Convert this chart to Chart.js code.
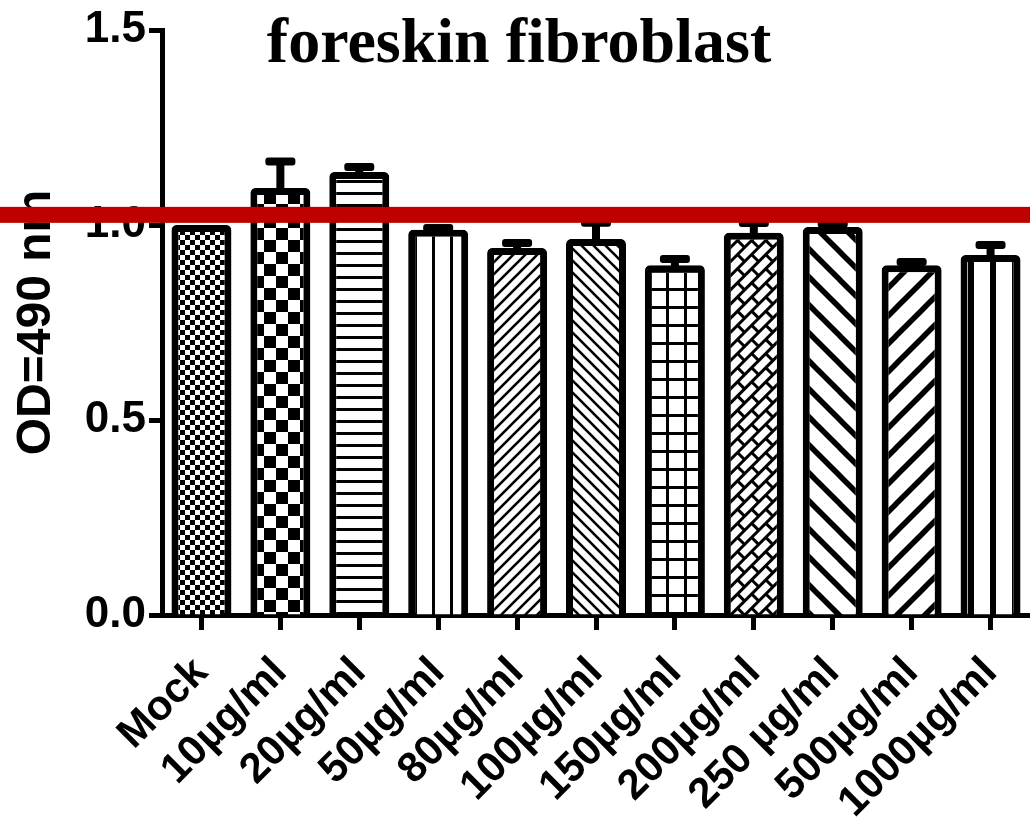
<!DOCTYPE html>
<html>
<head>
<meta charset="utf-8">
<script src="https://cdn.jsdelivr.net/npm/chart.js@4"></script>
<style>
  body { margin: 0; background: #fff; }
  #wrap { width: 1030px; height: 823px; position: relative; }
</style>
</head>
<body>
<div id="wrap"><canvas id="mycanvas"></canvas></div>
<script>
// data
var labels = ["Mock", "10\u00b5g/ml", "20\u00b5g/ml", "50\u00b5g/ml", "80\u00b5g/ml", "100\u00b5g/ml",
              "150\u00b5g/ml", "200\u00b5g/ml", "250 \u00b5g/ml", "500\u00b5g/ml", "1000\u00b5g/ml"];
var odValues = [1.0, 1.095, 1.136, 0.988, 0.941, 0.964, 0.897, 0.98, 0.995, 0.897, 0.923];
var odErrors = [0.0, 0.068, 0.013, 0.004, 0.013, 0.042, 0.016, 0.025, 0.008, 0.008, 0.026];
var yTicks = [0, 0.5, 1.0, 1.5];
var refLine = 1.026;

// fill patterns, one per bar
function makePattern(size, draw, rot) {
    var c = document.createElement("canvas");
    c.width = size; c.height = size;
    var g = c.getContext("2d");
    g.fillStyle = "#fff";
    g.fillRect(0, 0, size, size);
    g.fillStyle = "#000";
    g.strokeStyle = "#000";
    draw(g, size);
    var p = g.createPattern(c, "repeat");
    if (rot) p.setTransform(new DOMMatrix().rotate(rot));
    return p;
}
function checker(g, s) {
    g.fillRect(0, 0, s / 2, s / 2);
    g.fillRect(s / 2, s / 2, s / 2, s / 2);
}
function diag(w, back) {
    return function (g, s) {
        g.lineWidth = w;
        var segs = [[-s / 2, s / 2, s / 2, -s / 2], [0, s, s, 0], [s / 2, s * 1.5, s * 1.5, s / 2]];
        segs.forEach(function (d) {
            g.beginPath();
            if (back) { g.moveTo(s - d[0], d[1]); g.lineTo(s - d[2], d[3]); }
            else { g.moveTo(d[0], d[1]); g.lineTo(d[2], d[3]); }
            g.stroke();
        });
    };
}
var patterns = [
    makePattern(10, checker),
    makePattern(24, checker),
    makePattern(12, function (g, s) { g.fillRect(0, 0, s, 3); }),
    makePattern(18, function (g, s) { g.fillRect(0, 0, 3, s); }),
    makePattern(12, diag(2.6, false)),
    makePattern(12, diag(2.6, true)),
    makePattern(18, function (g, s) { g.fillRect(0, 0, s, 3); g.fillRect(0, 0, 3, s); }),
    makePattern(20, function (g, s) {
        g.fillRect(0, 0, s, 3);
        g.fillRect(0, s / 2, s, 3);
        g.fillRect(0, 0, 3, s / 2);
        g.fillRect(s / 2, s / 2, 3, s / 2);
    }, -45),
    makePattern(28, diag(5.5, true)),
    makePattern(28, diag(5.5, false)),
    makePattern(22, function (g, s) { g.fillRect(0, 0, 6, s); })
];

var errorBars = {
    id: "errorBars",
    afterDatasetsDraw: function (chart) {
        var ctx = chart.ctx, y = chart.scales.y;
        var meta = chart.getDatasetMeta(0);
        ctx.save();
        ctx.fillStyle = "#000";
        meta.data.forEach(function (bar, i) {
            if (!odErrors[i]) return;
            var top = y.getPixelForValue(odValues[i]);
            var hi = y.getPixelForValue(odValues[i] + odErrors[i]);
            ctx.fillRect(bar.x - 4, hi, 8, top - hi + 3);
            ctx.beginPath();
            ctx.roundRect(bar.x - 15, hi - 4, 30, 8, 3);
            ctx.fill();
        });
        ctx.restore();
    },
    afterDraw: function (chart) {
        var ctx = chart.ctx, y = chart.scales.y;
        ctx.save();
        ctx.fillStyle = "#000";
        ctx.font = "bold 64px 'Liberation Serif'";
        ctx.textAlign = "center";
        ctx.textBaseline = "alphabetic";
        ctx.fillText("foreskin fibroblast", 519, 62);
        var ry = y.getPixelForValue(refLine);
        ctx.fillStyle = "#C00000";
        ctx.fillRect(0, ry - 8, chart.width, 16);
        ctx.restore();
    }
};

var ctx = document.getElementById("mycanvas");
var barGraph = new Chart(ctx, {
    type: "bar",
    data: {
        labels: labels,
        datasets: [{
            data: odValues,
            backgroundColor: patterns,
            borderColor: "#000",
            borderWidth: 7,
            borderSkipped: "start",
            borderRadius: { topLeft: 5, topRight: 5 },
            barPercentage: 0.76,
            categoryPercentage: 1.0
        }]
    },
    options: {
        responsive: true,
        maintainAspectRatio: false,
        animation: false,
        layout: { padding: { top: 30, right: 0, left: 0, bottom: 0 } },
        plugins: { legend: { display: false }, tooltip: { enabled: false } },
        scales: {
            x: {
                afterFit: function (s) { s.height = 208; s.paddingLeft = 0; s.paddingRight = 0; },
                grid: { offset: false, drawOnChartArea: false, tickLength: 15, tickWidth: 5, tickColor: "#000" },
                border: { display: true, width: 5, color: "#000" },
                ticks: {
                    autoSkip: false, maxRotation: 45, minRotation: 45, padding: 18,
                    color: "#000",
                    font: { family: "'Liberation Sans', Arial", size: 42, weight: "bold" }
                }
            },
            y: {
                min: 0, max: 1.5,
                afterFit: function (s) { s.width = 162; },
                afterBuildTicks: function (s) { s.ticks = yTicks.map(function (v) { return { value: v }; }); },
                grid: { drawOnChartArea: false, tickLength: 13, tickWidth: 5, tickColor: "#000" },
                border: { display: true, width: 5, color: "#000" },
                ticks: {
                    padding: 3,
                    color: "#000",
                    font: { family: "'Liberation Sans', Arial", size: 44, weight: "bold" },
                    callback: function (v) { return Number(v).toFixed(1); }
                },
                title: {
                    display: true,
                    text: "OD=490 nm",
                    color: "#000",
                    padding: { top: 8, bottom: 0 },
                    font: { family: "'Liberation Sans', Arial", size: 48, weight: "bold" }
                }
            }
        }
    },
    plugins: [errorBars]
});
</script>
</body>
</html>
